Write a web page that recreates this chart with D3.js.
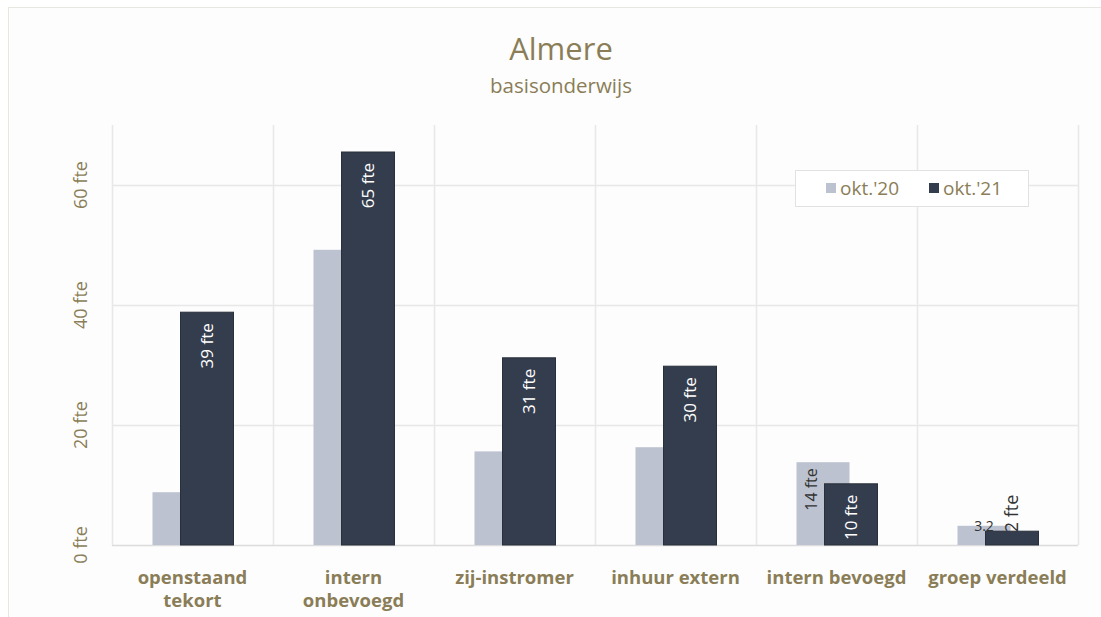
<!DOCTYPE html>
<html lang="nl">
<head>
<meta charset="UTF-8">
<title>Almere basisonderwijs</title>
<script src="https://d3js.org/d3.v7.min.js"></script>
<style>
  body { margin: 0; background: #fff; }
  svg text { font-family: "Open Sans", "Noto Sans", sans-serif; }
</style>
</head>
<body>
<div id="chart"></div>
<script>
// categories and values (fte)
const categories = [["openstaand", "tekort"], ["intern", "onbevoegd"], ["zij-instromer"], ["inhuur extern"], ["intern bevoegd"], ["groep verdeeld"]];
const okt20 = [8.8, 49.2, 15.6, 16.3, 13.8, 3.2];
const okt21 = [38.8, 65.5, 31.2, 29.8, 10.2, 2.3];
const labels20 = [null, null, null, null, "14 fte", "3.2"];
const labels21 = ["39 fte", "65 fte", "31 fte", "30 fte", "10 fte", "2 fte"];
const yTicks = [0, 20, 40, 60];
const seriesNames = ["okt.'20", "okt.'21"];

const width = 1101, height = 617;
const textColor = "#8a7d57";
const lightColor = "#bcc2cf";
const darkColor = "#343d4d";

const svg = d3.select("#chart").append("svg")
  .attr("width", width).attr("height", height);

// outer frame
svg.append("rect").attr("x", 0).attr("y", 0).attr("width", width).attr("height", height).attr("fill", "#fff");
svg.append("rect").attr("x", 8.5).attr("y", 7.5).attr("width", width).attr("height", height)
  .attr("fill", "#fdfdfd").attr("stroke", "#e9e7e1");

const margin = { left: 112, right: 1078, top: 125, bottom: 545 };

const x = d3.scaleBand().domain(d3.range(categories.length))
  .range([margin.left, margin.right]).padding(0);
const y = d3.scaleLinear().domain([0, 70]).range([margin.bottom, margin.top]);

// gridlines
svg.append("g").selectAll("line").data(yTicks.slice(1)).join("line")
  .attr("x1", margin.left).attr("x2", margin.right)
  .attr("y1", d => y(d) + 0.5).attr("y2", d => y(d) + 0.5)
  .attr("stroke", "#e8e8e8").attr("stroke-width", 1.5);
svg.append("g").selectAll("line").data(d3.range(categories.length + 1)).join("line")
  .attr("x1", i => Math.round(margin.left + i * x.bandwidth()) + 0.5)
  .attr("x2", i => Math.round(margin.left + i * x.bandwidth()) + 0.5)
  .attr("y1", margin.top).attr("y2", margin.bottom)
  .attr("stroke", "#e8e8e8").attr("stroke-width", 1.5);
svg.append("line").attr("x1", margin.left).attr("x2", margin.right)
  .attr("y1", margin.bottom + 0.5).attr("y2", margin.bottom + 0.5)
  .attr("stroke", "#dcdcdc").attr("stroke-width", 1.5);

// y tick labels (rotated)
svg.append("g").selectAll("text").data(yTicks).join("text")
  .attr("transform", d => `translate(87,${y(d)}) rotate(-90)`)
  .attr("text-anchor", "middle")
  .attr("fill", textColor).attr("font-size", 18)
  .text(d => d + " fte");

const barW = 53;
const cx = i => x(i) + x.bandwidth() / 2;
const x20 = i => cx(i) - 40;
const x21 = i => cx(i) - 12;

// okt.'20 bars
svg.append("g").selectAll("rect").data(okt20).join("rect")
  .attr("x", (d, i) => x20(i)).attr("y", d => y(d))
  .attr("width", barW).attr("height", d => y(0) - y(d))
  .attr("fill", lightColor);

// okt.'21 bars
svg.append("g").selectAll("rect").data(okt21).join("rect")
  .attr("x", (d, i) => x21(i)).attr("y", d => y(d))
  .attr("width", barW).attr("height", d => y(0) - y(d))
  .attr("fill", darkColor).attr("stroke", "#2a303b").attr("stroke-width", 1);

// okt.'21 labels
svg.append("g").selectAll("text").data(okt21).join("text")
  .attr("transform", (d, i) => {
    const big = d > 5;
    const ty = big ? y(d) + 11 : y(d) + 1;
    return `translate(${x21(i) + barW / 2 + 6},${ty}) rotate(-90)`;
  })
  .attr("text-anchor", d => d > 5 ? "end" : "start")
  .attr("fill", d => d > 5 ? "#fff" : "#333")
  .attr("font-size", d => d > 5 ? 17 : 18)
  .text((d, i) => labels21[i]);

// okt.'20 labels
okt20.forEach((d, i) => {
  const lab = labels20[i];
  if (!lab) return;
  if (d > 5) {
    svg.append("text")
      .attr("transform", `translate(${x20(i) + 14 + 6},${y(d) + 6}) rotate(-90)`)
      .attr("text-anchor", "end").attr("fill", "#333").attr("font-size", 16)
      .text(lab);
  } else {
    svg.append("text")
      .attr("x", x20(i) + barW / 2).attr("y", y(d) + 5)
      .attr("text-anchor", "middle").attr("fill", "#333").attr("font-size", 14)
      .text(lab);
  }
});

// category labels
const xl = svg.append("g").selectAll("text").data(categories).join("text")
  .attr("x", (d, i) => cx(i)).attr("y", 584)
  .attr("text-anchor", "middle").attr("fill", textColor)
  .attr("font-size", 18.5).attr("font-weight", "bold");
xl.selectAll("tspan").data(d => d).join("tspan")
  .attr("x", function () { return d3.select(this.parentNode).attr("x"); })
  .attr("dy", (d, j) => j === 0 ? 0 : 23)
  .text(d => d);

// title
svg.append("text").attr("x", 561).attr("y", 60).attr("text-anchor", "middle")
  .attr("fill", textColor).attr("font-size", 31).text("Almere");
svg.append("text").attr("x", 561).attr("y", 93).attr("text-anchor", "middle")
  .attr("fill", textColor).attr("font-size", 20.5).text("basisonderwijs");

// legend
const legend = svg.append("g");
legend.append("rect").attr("x", 795.5).attr("y", 170.5).attr("width", 233).attr("height", 36)
  .attr("fill", "#fff").attr("stroke", "#e2e2e2");
const legX = [826, 929];
const legColors = [lightColor, darkColor];
seriesNames.forEach((s, i) => {
  legend.append("rect").attr("x", legX[i]).attr("y", 183).attr("width", 10).attr("height", 10)
    .attr("fill", legColors[i]);
  legend.append("text").attr("x", legX[i] + 14).attr("y", 195)
    .attr("fill", textColor).attr("font-size", 19).text(s);
});
</script>
</body>
</html>
